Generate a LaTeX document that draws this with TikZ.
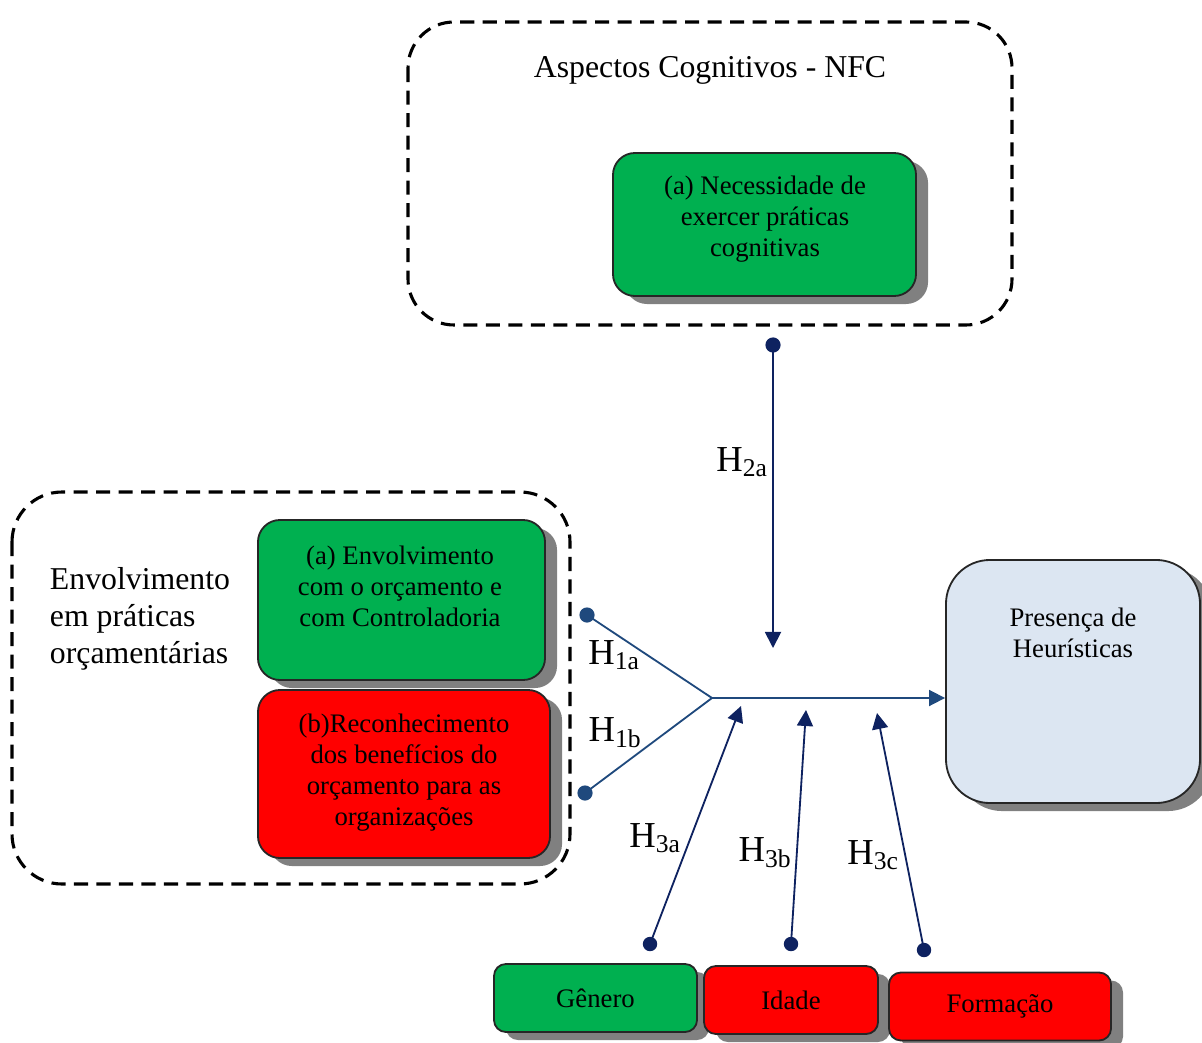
\documentclass[tikz,border=0pt]{standalone}
\usepackage{fontspec}
\setmainfont{Liberation Serif}
\usetikzlibrary{arrows.meta,shadows}

\definecolor{verde}{RGB}{0,176,80}
\definecolor{vermelho}{RGB}{255,0,0}
\definecolor{azulclaro}{RGB}{220,230,242}
\definecolor{marinho}{RGB}{14,34,96}
\definecolor{azul}{RGB}{31,73,125}
\definecolor{sombra}{RGB}{128,128,128}

\begin{document}
\begin{tikzpicture}[x=0.025cm,y=-0.025cm,line join=round,>={Triangle[length=0.4cm,width=0.4cm]}]
	\tikzset{
		grupo/.style={draw=black,line width=2.2pt,dash pattern=on 10pt off 6pt},
		caixa/.style={draw=black!85,line width=1.3pt,rounded corners=0.55cm,
			drop shadow={shadow xshift=0.3cm,shadow yshift=-0.2cm,fill=sombra,opacity=1}},
		txt/.style={align=center,font=\fontsize{19}{22}\selectfont},
		rotulo/.style={font=\fontsize{26}{30}\selectfont},
		titulo/.style={font=\fontsize{22.6}{26}\selectfont},
		seta/.style={->,line width=1.3pt,#1},
		ponto/.style={fill=#1}
	}
	\useasboundingbox (0,0) rectangle (1202,1043);
	% grupos tracejados
	\draw[grupo,rounded corners=1.15cm] (408,22) rectangle (1012,325);
	\draw[grupo,rounded corners=1.25cm] (12,492) rectangle (570,884);
	\node[titulo] (tnfc) at (710,70) {Aspectos Cognitivos - NFC};
	\node[titulo,anchor=west,align=left,font=\fontsize{22.6}{26.5}\selectfont] (tenv) at (45,619) {Envolvimento\\em práticas\\orçamentárias};
	% caixas
	\node[caixa,fill=verde,minimum width=7.575cm,minimum height=3.575cm] (nfc) at (764.5,224.5) {};
	\node[txt] (nfctxt) at (765,219) {(a) Necessidade de\\exercer práticas\\cognitivas};
	\node[caixa,fill=verde,minimum width=7.175cm,minimum height=4cm] (env) at (401.5,600) {};
	\node[txt] (envtxt) at (400,586) {(a) Envolvimento\\com o orçamento e\\com Controladoria};
	\node[caixa,fill=vermelho,minimum width=7.3cm,minimum height=4.2cm] (rec) at (404,774) {};
	\node[txt] (rectxt) at (404,773) {(b)Reconhecimento\\dos benefícios do\\orçamento para as\\organizações};
	\node[caixa,fill=azulclaro,rounded corners=1.1cm,minimum width=6.35cm,minimum height=6.075cm] (pres) at (1073,681.5) {};
	\node[txt] (prestxt) at (1073,633) {Presença de\\Heurísticas};
	\foreach \nome/\x/\y/\w/\cor/\texto in {gen/595.5/998/5.075/verde/Gênero,ida/791/1000/4.35/vermelho/Idade,for/1000/1006.5/5.55/vermelho/Formação}
	\node[caixa,fill=\cor,rounded corners=0.3cm,minimum width=\w cm,minimum height=1.7cm,font=\fontsize{19}{22}\selectfont] (\nome) at (\x,\y) {\texto};
	% hipoteses
	\coordinate (h2a) at (773,345);
	\coordinate (h2b) at (773,648);
	\coordinate (h1a) at (587,615);
	\coordinate (h1b) at (585,793);
	\coordinate (junta) at (712,698);
	\coordinate (h3a) at (650,944);
	\coordinate (h3b) at (791,944);
	\coordinate (h3c) at (924,950);
	\draw[seta=marinho] (h2a) -- (h2b);
	\fill[ponto=marinho] (h2a) circle (0.19cm);
	\draw[line width=1.3pt,azul] (h1a) -- (junta) -- (h1b);
	\fill[ponto=azul] (h1a) circle (0.19cm);
	\fill[ponto=azul] (h1b) circle (0.19cm);
	\draw[seta=azul] (junta) -- (junta -| pres.west);
	\draw[seta=marinho] (h3a) -- (741,706);
	\draw[seta=marinho] (h3b) -- (806,710);
	\draw[seta=marinho] (h3c) -- (877,713);
	\foreach \p in {h3a,h3b,h3c}
	\fill[ponto=marinho] (\p) circle (0.18cm);
	\node[rotulo] (l2a) at (742,462) {H\textsubscript{2a}};
	\node[rotulo] (l1a) at (614,655) {H\textsubscript{1a}};
	\node[rotulo] (l1b) at (615,733) {H\textsubscript{1b}};
	\node[rotulo] (l3a) at (655,838) {H\textsubscript{3a}};
	\node[rotulo] (l3b) at (765,853) {H\textsubscript{3b}};
	\node[rotulo] (l3c) at (873,855) {H\textsubscript{3c}};
\end{tikzpicture}
\end{document}
